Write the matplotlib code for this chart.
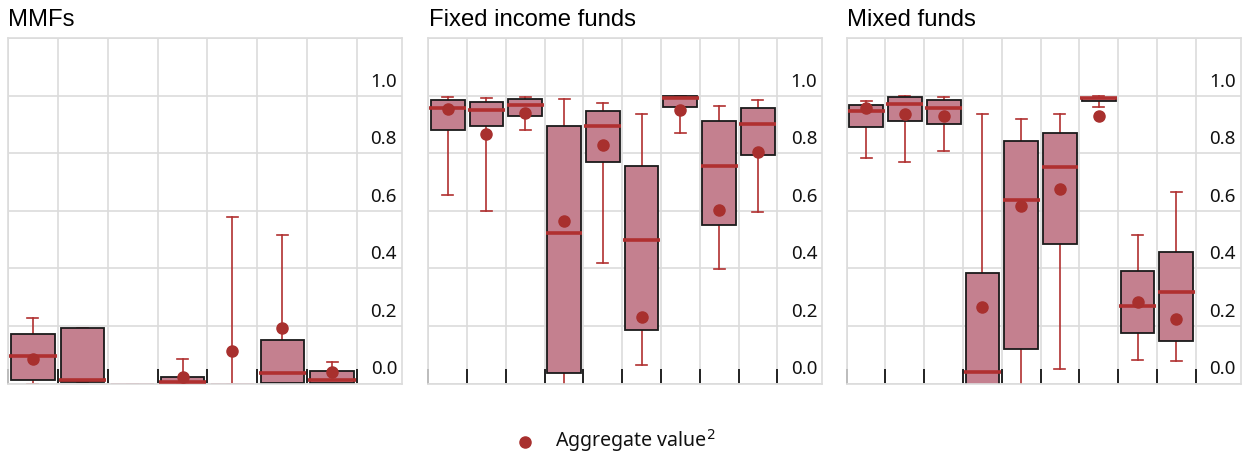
import matplotlib
matplotlib.use("Agg")
import matplotlib.pyplot as plt
import matplotlib.transforms as mtransforms
import numpy as np

# distribution of the ratio per category: whisker low, Q1, median, Q3, whisker high, aggregate
mmf_lo = [0.0, 0.006, 0.0, 0.0, 0.0, 0.0, 0.0]
mmf_q1 = [0.011, 0.006, 0.0, 0.004, 0.0, 0.003, 0.002]
mmf_med = [0.096, 0.012, np.nan, 0.004, np.nan, 0.036, 0.011]
mmf_q3 = [0.171, 0.194, 0.0, 0.021, 0.0, 0.151, 0.044]
mmf_hi = [0.229, 0.194, 0.0, 0.085, 0.579, 0.515, 0.073]
mmf_agg = [0.085, np.nan, np.nan, 0.024, 0.113, 0.194, 0.041]

fi_lo = [0.655, 0.598, 0.881, -0.02, 0.420, 0.065, 0.871, 0.399, 0.597]
fi_q1 = [0.881, 0.894, 0.929, 0.037, 0.768, 0.187, 0.961, 0.550, 0.795]
fi_med = [0.957, 0.950, 0.966, 0.522, 0.893, 0.500, 0.991, 0.754, 0.901]
fi_q3 = [0.983, 0.976, 0.989, 0.894, 0.948, 0.757, 1.000, 0.913, 0.958]
fi_hi = [0.995, 0.993, 0.996, 0.987, 0.975, 0.937, 1.000, 0.964, 0.983]
fi_agg = [0.953, 0.866, 0.940, 0.563, 0.828, 0.232, 0.950, 0.603, 0.805]

mx_lo = [0.784, 0.768, 0.808, -0.02, -0.01, 0.051, 0.962, 0.083, 0.077]
mx_q1 = [0.892, 0.910, 0.900, -0.01, 0.119, 0.483, 0.981, 0.174, 0.149]
mx_med = [0.945, 0.970, 0.957, 0.039, 0.639, 0.751, 0.991, 0.268, 0.318]
mx_q3 = [0.968, 0.996, 0.985, 0.384, 0.841, 0.869, 0.993, 0.392, 0.456]
mx_hi = [0.982, 1.000, 0.995, 0.936, 0.920, 0.936, 1.000, 0.516, 0.665]
mx_agg = [0.956, 0.935, 0.929, 0.265, 0.618, 0.676, 0.928, 0.284, 0.223]

titles = ["MMFs", "Fixed income funds", "Mixed funds"]
y_ticks = [0.0, 0.2, 0.4, 0.6, 0.8, 1.0]

panels = [
    (mmf_lo, mmf_q1, mmf_med, mmf_q3, mmf_hi, mmf_agg),
    (fi_lo, fi_q1, fi_med, fi_q3, fi_hi, fi_agg),
    (mx_lo, mx_q1, mx_med, mx_q3, mx_hi, mx_agg),
]

box_face = "#c4808f"
red = "#b03030"
dot = "#a8302e"
grid = "#dcdcdc"

fig = plt.figure(figsize=(12.47, 4.54), dpi=100)
lefts = [8 / 1247, 428.3 / 1247, 846.7 / 1247]
width = 394 / 1247
bottom = (454 - 383.5) / 454
height = (383.5 - 38) / 454

for left, title, (lo, q1, med, q3, hi, agg) in zip(lefts, titles, panels):
    ax = fig.add_axes([left, bottom, width, height])
    n = len(med)
    pos = np.arange(n) + 0.5
    cell_px = (394 - 45) / n
    extra = 45 / cell_px

    stats = [dict(whislo=a, q1=b, med=0 if np.isnan(c) else c, q3=d, whishi=e, fliers=[])
             for a, b, c, d, e in zip(lo, q1, med, q3, hi)]
    parts = ax.bxp(stats, positions=pos, widths=0.87, patch_artist=True,
                   showfliers=False, manage_ticks=False,
                   capwidths=11 / cell_px,
                   boxprops=dict(facecolor=box_face, edgecolor="#1a1a1a",
                                 linewidth=1.3, zorder=2),
                   whiskerprops=dict(color=red, linewidth=1.2, zorder=1.5),
                   capprops=dict(color=red, linewidth=1.2, zorder=1.5),
                   medianprops=dict(alpha=0))
    # empty (zero-height) boxes show only as a faint line
    for patch, a, b in zip(parts["boxes"], q1, q3):
        if a == b:
            patch.set_edgecolor(box_face)
    # median bars slightly wider than the boxes
    ax.hlines(med, pos - 0.475, pos + 0.475, color=red, linewidth=2.6, zorder=4)
    ax.plot(pos, agg, "o", color=dot, markersize=8, zorder=5, linestyle="none")

    ax.set_xlim(0, n + extra)
    ax.set_ylim(0, 1.2)
    ax.set_xticks(np.arange(n + 1))
    ax.set_xticklabels([])
    ax.set_yticks(np.arange(0, 1.21, 0.2))
    ax.set_yticklabels([])
    ax.tick_params(axis="x", direction="in", length=11, width=1.4, color="#222222")
    ax.tick_params(axis="y", length=0)
    ax.grid(True, color=grid, linewidth=1.2)
    ax.set_axisbelow(True)
    for s in ax.spines.values():
        s.set_color(grid)
        s.set_linewidth(1.2)

    trans = mtransforms.offset_copy(
        mtransforms.blended_transform_factory(ax.transAxes, ax.transData),
        fig=fig, x=-5, y=5, units="dots")
    for v in y_ticks:
        ax.text(1.0, v, f"{v:.1f}", transform=trans, ha="right", va="bottom",
                fontsize=13.5, family=["Noto Sans", "DejaVu Sans"], color="#111111")

    fig.text(left + 0.5 / 1247, (454 - 26) / 454, title, ha="left", va="baseline",
             fontsize=17.2, family="Liberation Sans", color="#000000")

# legend for the aggregate marker
fig.lines.append(plt.Line2D([525 / 1247], [(454 - 441.5) / 454], marker="o",
                            color=dot, markersize=8, linestyle="none",
                            transform=fig.transFigure))
fig.text(555 / 1247, (454 - 447) / 454, "Aggregate value$^2$", ha="left",
         va="baseline", fontsize=14.1, family="Noto Sans", color="#111111")

fig.savefig("out.png", dpi=100)
